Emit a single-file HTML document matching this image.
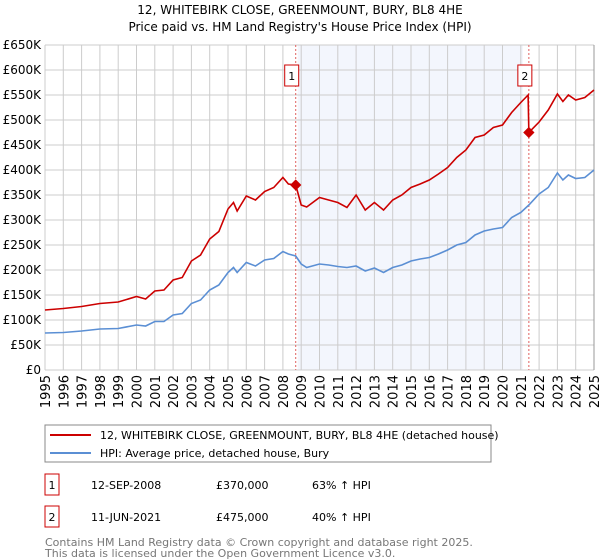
<!DOCTYPE html>
<html><head><meta charset="utf-8"><style>
body{margin:0;background:#fff;font-family:"Liberation Sans","DejaVu Sans",sans-serif;}
svg{display:block}
</style></head><body>
<svg width="600" height="560" font-family="DejaVu Sans, Liberation Sans, sans-serif">
<text x="300" y="14" text-anchor="middle" font-size="12">12, WHITEBIRK CLOSE, GREENMOUNT, BURY, BL8 4HE</text>
<text x="300" y="31" text-anchor="middle" font-size="12">Price paid vs. HM Land Registry's House Price Index (HPI)</text>
<g id="plot"></g>
<g>
<rect x="45" y="425" width="446" height="37" fill="#fff" stroke="#888"/>
<line x1="50" y1="435" x2="91" y2="435" stroke="#cc0000" stroke-width="2"/>
<text x="100" y="439" font-size="11">12, WHITEBIRK CLOSE, GREENMOUNT, BURY, BL8 4HE (detached house)</text>
<line x1="50" y1="453" x2="91" y2="453" stroke="#5b8fd4" stroke-width="2"/>
<text x="100" y="457" font-size="11">HPI: Average price, detached house, Bury</text>
</g>
<g font-size="11">
<rect x="45" y="474" width="14" height="21" fill="#fff" stroke="#cc0000"/><text x="52" y="489" text-anchor="middle">1</text>
<text x="91" y="489">12-SEP-2008</text><text x="216" y="489">£370,000</text><text x="312" y="489">63% ↑ HPI</text>
<rect x="45" y="506" width="14" height="21" fill="#fff" stroke="#cc0000"/><text x="52" y="521" text-anchor="middle">2</text>
<text x="91" y="521">11-JUN-2021</text><text x="216" y="521">£475,000</text><text x="312" y="521">40% ↑ HPI</text>
</g>
<text x="45" y="546" font-size="11" fill="#777">Contains HM Land Registry data © Crown copyright and database right 2025.</text>
<text x="45" y="557" font-size="11" fill="#777">This data is licensed under the Open Government Licence v3.0.</text>
</svg>
<script>
const hpiYears=[1995,1996,1997,1998,1999,2000,2000.5,2001,2001.5,2002,2002.5,2003,2003.5,2004,2004.5,2005,2005.3,2005.5,2006,2006.5,2007,2007.5,2008,2008.3,2008.7,2009,2009.3,2010,2010.5,2011,2011.5,2012,2012.5,2013,2013.5,2014,2014.5,2015,2015.5,2016,2016.5,2017,2017.5,2018,2018.5,2019,2019.5,2020,2020.5,2021,2021.44,2022,2022.5,2023,2023.3,2023.6,2024,2024.5,2025];
const hpiValues=[74,75,78,82,83,90,88,97,97,110,113,133,140,160,170,195,205,195,215,208,220,223,237,232,228,212,205,212,210,207,205,208,198,204,195,205,210,218,222,225,232,240,250,255,270,278,282,285,305,315,330,352,365,394,380,390,383,385,400];
const propYears=[1995,1996,1997,1998,1999,2000,2000.5,2001,2001.5,2002,2002.5,2003,2003.5,2004,2004.5,2005,2005.3,2005.5,2006,2006.5,2007,2007.5,2008,2008.3,2008.7,2009,2009.3,2010,2010.5,2011,2011.5,2012,2012.5,2013,2013.5,2014,2014.5,2015,2015.5,2016,2016.5,2017,2017.5,2018,2018.5,2019,2019.5,2020,2020.5,2021,2021.4,2021.44,2022,2022.5,2023,2023.3,2023.6,2024,2024.5,2025];
const propValues=[120,123,127,133,136,147,142,158,160,180,185,218,230,262,277,322,335,318,348,340,357,365,385,372,370,330,326,345,340,335,325,350,320,335,320,340,350,365,372,380,392,405,425,440,465,470,485,490,515,535,550,475,496,520,552,537,550,540,545,560];
const saleYears=[2008.7,2021.44];
const saleValues=[370,475];
const saleLabels=["1","2"];
const yTicks=[0,50,100,150,200,250,300,350,400,450,500,550,600,650];
const xTicks=[1995,1996,1997,1998,1999,2000,2001,2002,2003,2004,2005,2006,2007,2008,2009,2010,2011,2012,2013,2014,2015,2016,2017,2018,2019,2020,2021,2022,2023,2024,2025];
const X0=45,X1=594,Y0=370,Y1=45;
const xs=y=>X0+(y-1995)/30*(X1-X0);
const ys=v=>Y0-v/650*(Y0-Y1);
const NS="http://www.w3.org/2000/svg";
const g=document.getElementById('plot');
function mk(t,a,p){const e=document.createElementNS(NS,t);for(const k in a)e.setAttribute(k,a[k]);(p||g).appendChild(e);return e;}
let sh=mk('rect',{x:xs(saleYears[0])+2,y:Y1,width:xs(saleYears[1])-xs(saleYears[0])-8,height:Y0-Y1,fill:'#f3f6fd'});


xTicks.forEach(t=>{const l=mk('line',{x1:xs(t),x2:xs(t),y1:Y1,y2:Y0,stroke:'#ccc'});


const tx=mk('text',{x:0,y:0,'font-size':13,'text-anchor':'end',transform:`translate(${xs(t)+5},375) rotate(-90)`});tx.textContent=t;

});
yTicks.forEach(t=>{const l=mk('line',{x1:X0,x2:X1,y1:ys(t),y2:ys(t),stroke:'#ccc'});


const tx=mk('text',{x:41,y:ys(t)+4,'font-size':12,'text-anchor':'end'});tx.textContent=t==0?'£0':'£'+t+'K';

});
mk('line',{x1:X1,x2:X1,y1:Y1,y2:Y0,stroke:'#999'});
saleYears.forEach((s,i)=>{const l=mk('line',{x1:xs(s),x2:xs(s),y1:Y1,y2:Y0,stroke:'#e06060','stroke-dasharray':'2,2'});


const r=mk('rect',{x:xs(s)-11,y:65,width:14,height:21,fill:'#fff',stroke:'#cc0000'});


const t=mk('text',{x:xs(s)-4,y:80,'font-size':11,'text-anchor':'middle'});t.textContent=saleLabels[i];

});
function line(xa,va,c,n){const p=mk('polyline',{points:xa.map((y,i)=>xs(y)+','+ys(va[i])).join(' '),fill:'none',stroke:c,'stroke-width':1.6});

}
line(hpiYears,hpiValues,'#5b8fd4','hpi-line');
line(propYears,propValues,'#cc0000','property-line');
saleYears.forEach((s,i)=>{const c=mk('rect',{x:xs(s)-4,y:ys(saleValues[i])-4,width:8,height:8,fill:'#cc0000',transform:`rotate(45 ${xs(s)} ${ys(saleValues[i])})`});

});
</script>
</body></html>
